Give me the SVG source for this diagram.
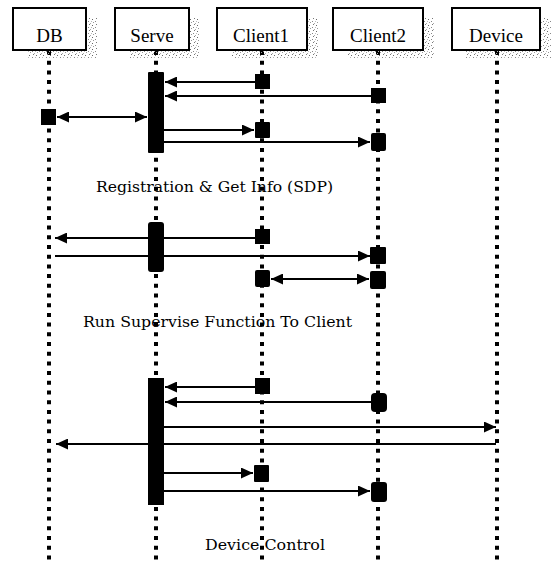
<svg xmlns="http://www.w3.org/2000/svg" width="560" height="561" viewBox="0 0 560 561">
  <style>
    .box { fill: #ffffff; stroke: #000000; stroke-width: 2; }
    .name { font-family: "Liberation Serif", "DejaVu Serif", serif; font-size: 19px; fill: #000; text-anchor: middle; }
    .note { font-family: "DejaVu Serif", "Liberation Serif", serif; font-size: 15px; fill: #000; }
    .life { stroke: #000; stroke-width: 4; stroke-dasharray: 4 5.7; fill: none; }
    .bar { fill: #000; }
    .act { fill: #000; }
    .msg { stroke: #000; stroke-width: 2; fill: none; }
    .to { marker-end: url(#head); }
    .both { marker-start: url(#tail); marker-end: url(#head); }
    .shade { fill: url(#speckle); }
  </style>
  <defs>
    <marker id="head" markerWidth="12" markerHeight="11" refX="12" refY="5.5" orient="auto" markerUnits="userSpaceOnUse">
      <path d="M0,0 L12,5.5 L0,11 z" fill="#000"/>
    </marker>
    <marker id="tail" markerWidth="12" markerHeight="11" refX="0" refY="5.5" orient="auto" markerUnits="userSpaceOnUse">
      <path d="M12,0 L0,5.5 L12,11 z" fill="#000"/>
    </marker>
    <!-- stippled drop shadow texture -->
    <pattern id="speckle" width="7" height="6" patternUnits="userSpaceOnUse">
      <rect x="1" y="1" width="1" height="1" fill="#666"/>
      <rect x="4" y="3" width="1" height="1" fill="#888"/>
      <rect x="2" y="4" width="1" height="1" fill="#999"/>
      <rect x="5" y="0" width="1" height="1" fill="#777"/>
      <rect x="6" y="5" width="1" height="1" fill="#aaa"/>
      <rect x="0" y="3" width="1" height="1" fill="#bbb"/>
    </pattern>
  </defs>

  <!-- lifelines -->
  <g id="lifelines">
    <line class="life" x1="49" y1="51" x2="49" y2="561"/>
    <line class="life" x1="156" y1="51" x2="156" y2="561"/>
    <line class="life" x1="262" y1="51" x2="262" y2="561"/>
    <line class="life" x1="378" y1="51" x2="378" y2="561"/>
    <line class="life" x1="497" y1="51" x2="497" y2="561"/>
  </g>

  <!-- participants -->
  <g id="db">
    <rect class="shade" x="87" y="18" width="10" height="40"/>
    <rect class="shade" x="28" y="51" width="60" height="7"/>
    <rect class="box" x="13" y="8" width="73" height="42"/>
    <text class="name" x="49.5" y="42">DB</text>
  </g>
  <g id="serve">
    <rect class="shade" x="190" y="18" width="10" height="40"/>
    <rect class="shade" x="130" y="51" width="60" height="7"/>
    <rect class="box" x="115" y="8" width="74" height="42"/>
    <text class="name" x="152" y="42">Serve</text>
  </g>
  <g id="client1">
    <rect class="shade" x="308" y="18" width="10" height="40"/>
    <rect class="shade" x="232" y="51" width="76" height="7"/>
    <rect class="box" x="217" y="8" width="90" height="42"/>
    <text class="name" x="261" y="42">Client1</text>
  </g>
  <g id="client2">
    <rect class="shade" x="424" y="18" width="10" height="40"/>
    <rect class="shade" x="348" y="51" width="76" height="7"/>
    <rect class="box" x="333" y="8" width="90" height="42"/>
    <text class="name" x="378" y="42">Client2</text>
  </g>
  <g id="device">
    <rect class="shade" x="541" y="18" width="10" height="40"/>
    <rect class="shade" x="466" y="51" width="75" height="7"/>
    <rect class="box" x="452" y="8" width="88" height="42"/>
    <text class="name" x="496" y="42">Device</text>
  </g>

  <!-- activation bars and blocks -->
  <g id="activations">
    <rect class="bar" x="148" y="72" width="16" height="81" rx="1"/>
    <rect class="bar" x="148" y="222" width="16" height="50" rx="3"/>
    <rect class="bar" x="148" y="378" width="16" height="127"/>

    <rect class="act" x="255" y="74" width="15" height="15"/>
    <rect class="act" x="371" y="88" width="15" height="15"/>
    <rect class="act" x="41" y="109" width="15" height="16"/>
    <rect class="act" x="255" y="122" width="15" height="16" rx="1"/>
    <rect class="act" x="371" y="133" width="15" height="18" rx="2"/>

    <rect class="act" x="255" y="229" width="15" height="15"/>
    <rect class="act" x="370" y="247" width="16" height="17" rx="1"/>
    <rect class="act" x="255" y="270" width="15" height="17" rx="2"/>
    <rect class="act" x="370" y="271" width="16" height="18" rx="2"/>

    <rect class="act" x="255" y="378" width="15" height="16"/>
    <rect class="act" x="371" y="393" width="16" height="19" rx="4"/>
    <rect class="act" x="254" y="465" width="15" height="17" rx="1"/>
    <rect class="act" x="371" y="482" width="16" height="20" rx="3"/>
  </g>

  <!-- messages -->
  <g id="connectors">
    <line class="msg to" x1="255" y1="82" x2="165" y2="82"/>
    <line class="msg to" x1="371" y1="96" x2="165" y2="96"/>
    <line class="msg both" x1="57" y1="117" x2="147" y2="117"/>
    <line class="msg to" x1="164" y1="130" x2="254" y2="130"/>
    <line class="msg to" x1="164" y1="142" x2="370" y2="142"/>

    <line class="msg to" x1="255" y1="238" x2="55" y2="238"/>
    <line class="msg to" x1="55" y1="256" x2="370" y2="256"/>
    <line class="msg both" x1="271" y1="279" x2="369" y2="279"/>

    <line class="msg to" x1="255" y1="387" x2="165" y2="387"/>
    <line class="msg to" x1="371" y1="402" x2="165" y2="402"/>
    <line class="msg to" x1="164" y1="427" x2="496" y2="427"/>
    <line class="msg to" x1="496" y1="444" x2="56" y2="444"/>
    <line class="msg to" x1="164" y1="473" x2="253" y2="473"/>
    <line class="msg to" x1="164" y1="491" x2="370" y2="491"/>
  </g>

  <!-- phase captions -->
  <g id="captions">
    <text class="note" x="96" y="192" textLength="237" lengthAdjust="spacingAndGlyphs">Registration &amp; Get Info (SDP)</text>
    <text class="note" x="83" y="327" textLength="269" lengthAdjust="spacingAndGlyphs">Run Supervise Function To Client</text>
    <text class="note" x="205" y="550" textLength="120" lengthAdjust="spacingAndGlyphs">Device Control</text>
  </g>
</svg>
